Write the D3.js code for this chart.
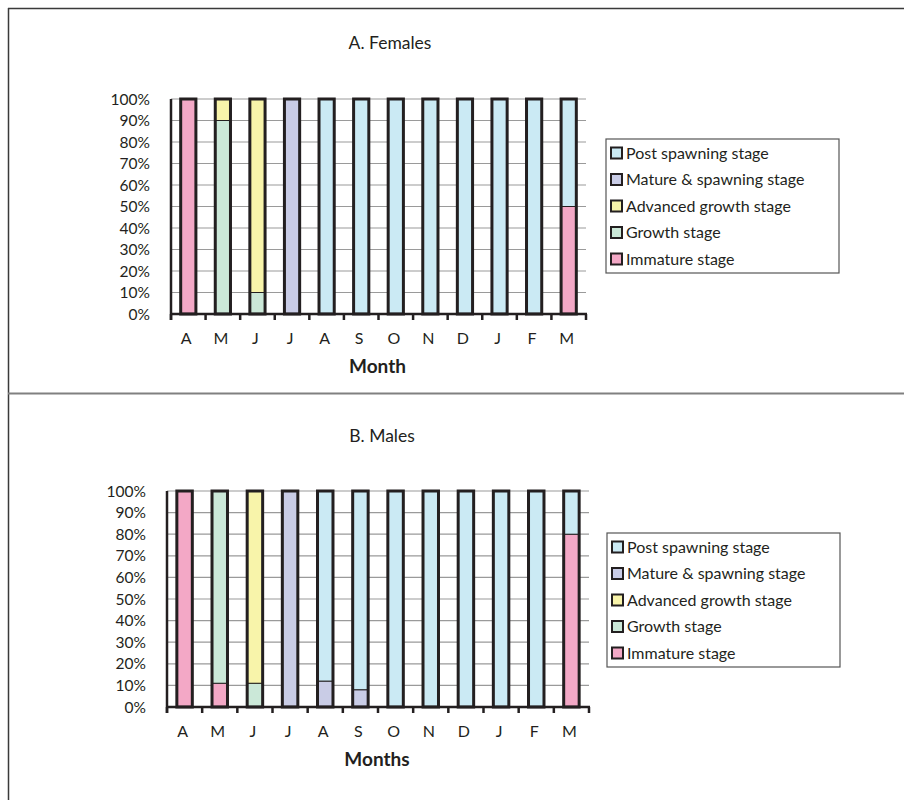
<!DOCTYPE html>
<html><head><meta charset="utf-8">
<script src="https://cdn.jsdelivr.net/npm/d3@7"></script>
<style>
body{margin:0;background:#fff;}
text{font-family:Lato,"Open Sans",sans-serif;fill:#231f20;}
</style></head>
<body>
<svg id="c" width="904" height="800"></svg>
<script>
const months = ["A","M","J","J","A","S","O","N","D","J","F","M"];
const stages = ["Immature stage","Growth stage","Advanced growth stage","Mature & spawning stage","Post spawning stage"];
const stageColors = ["#f3a8c6","#cbe8d8","#f8f4aa","#c9cce6","#cbeaf4"];
const yTicks = [0,10,20,30,40,50,60,70,80,90,100];

// Females (%)
const femImmature = [100,0,0,0,0,0,0,0,0,0,0,50];
const femGrowth   = [0,90,10,0,0,0,0,0,0,0,0,0];
const femAdvanced = [0,10,90,0,0,0,0,0,0,0,0,0];
const femMature   = [0,0,0,100,0,0,0,0,0,0,0,0];
const femPost     = [0,0,0,0,100,100,100,100,100,100,100,50];

// Males (%)
const malImmature = [100,11,0,0,0,0,0,0,0,0,0,80];
const malGrowth   = [0,89,11,0,0,0,0,0,0,0,0,0];
const malAdvanced = [0,0,89,0,0,0,0,0,0,0,0,0];
const malMature   = [0,0,0,100,12,8,0,0,0,0,0,0];
const malPost     = [0,0,0,0,88,92,100,100,100,100,100,20];

const svg = d3.select("#c");

// frame
svg.append("line").attr("x1",8).attr("x2",904).attr("y1",8.5).attr("y2",8.5).attr("stroke","#3a3a3a").attr("stroke-width",1.5);
svg.append("line").attr("x1",8.5).attr("x2",8.5).attr("y1",8).attr("y2",800).attr("stroke","#3a3a3a").attr("stroke-width",1.5);
svg.append("line").attr("x1",8).attr("x2",904).attr("y1",393.5).attr("y2",393.5).attr("stroke","#808080").attr("stroke-width",2);

function panel(cfg){
  const series = [cfg.imm, cfg.gro, cfg.adv, cfg.mat, cfg.post];
  const rows = months.map((m,i)=>{ const r={idx:i}; stages.forEach((s,k)=>r[s]=series[k][i]); return r; });
  const stack = d3.stack().keys(stages)(rows);
  const x = d3.scaleBand().domain(d3.range(months.length)).range([cfg.left,cfg.right]).paddingInner(0).paddingOuter(0);
  const y = d3.scaleLinear().domain([0,100]).range([cfg.bottom,cfg.top]);
  const g = svg.append("g");
  // gridlines
  g.selectAll(".grid").data(yTicks).join("line")
    .attr("x1",cfg.left).attr("x2",cfg.right)
    .attr("y1",d=>y(d)).attr("y2",d=>y(d))
    .attr("stroke","#9a9a9a").attr("stroke-width",1.2);
  // y labels
  g.selectAll(".yl").data(yTicks).join("text")
    .attr("x",cfg.left-21).attr("y",d=>y(d)+5.5)
    .attr("text-anchor","end").attr("font-size",15.5).text(d=>d+"%");
  const bw = x.bandwidth()*0.44;
  const off = (x.bandwidth()-bw)/2;
  // segments
  stack.forEach((layer,k)=>{
    g.selectAll(null).data(layer.filter(d=>d[1]-d[0]>0)).join("rect")
      .attr("x",d=>x(d.data.idx)+off).attr("width",bw)
      .attr("y",d=>y(d[1])).attr("height",d=>y(d[0])-y(d[1]))
      .attr("fill",stageColors[k]).attr("stroke","#231f20").attr("stroke-width",1);
  });
  // outer bar outline
  g.selectAll(null).data(rows).join("rect")
    .attr("x",d=>x(d.idx)+off).attr("width",bw)
    .attr("y",d=>y(d3.sum(stages,s=>d[s]))).attr("height",d=>y(0)-y(d3.sum(stages,s=>d[s])))
    .attr("fill","none").attr("stroke","#231f20").attr("stroke-width",3);
  // axes
  g.append("line").attr("x1",cfg.left).attr("x2",cfg.left).attr("y1",cfg.top).attr("y2",cfg.bottom+6).attr("stroke","#231f20").attr("stroke-width",2.5);
  g.append("line").attr("x1",cfg.left).attr("x2",cfg.right+1).attr("y1",cfg.bottom).attr("y2",cfg.bottom).attr("stroke","#231f20").attr("stroke-width",2.5);
  const bounds = d3.range(months.length+1).map(i=> i<months.length ? x(i) : cfg.right);
  g.selectAll(".xt").data(bounds).join("line")
    .attr("x1",d=>d).attr("x2",d=>d).attr("y1",cfg.bottom).attr("y2",cfg.bottom+6)
    .attr("stroke","#231f20").attr("stroke-width",2.5);
  g.selectAll(".xl").data(months.map((m,i)=>({m,i}))).join("text")
    .attr("x",d=>x(d.i)+x.bandwidth()/2-2).attr("y",cfg.bottom+30)
    .attr("text-anchor","middle").attr("font-size",16).text(d=>d.m);
  g.append("text").attr("x",(cfg.left+cfg.right)/2-1).attr("y",cfg.bottom+59)
    .attr("text-anchor","middle").attr("font-size",19).attr("font-weight","bold").text(cfg.xTitle);
  g.append("text").attr("x",cfg.titleX).attr("y",cfg.titleY)
    .attr("text-anchor","middle").attr("font-size",17.5).text(cfg.title);
  // legend
  const lg = g.append("g");
  lg.append("rect").attr("x",cfg.legX).attr("y",cfg.legY).attr("width",233).attr("height",134)
    .attr("fill","#fff").attr("stroke","#555").attr("stroke-width",1.2);
  const order = stages.slice().reverse();
  const cols = stageColors.slice().reverse();
  order.forEach((s,i)=>{
    const yy = cfg.legY+14+i*26.5;
    lg.append("rect").attr("x",cfg.legX+5).attr("y",yy-5.5).attr("width",11).attr("height",11)
      .attr("fill",cols[i]).attr("stroke","#231f20").attr("stroke-width",2);
    lg.append("text").attr("x",cfg.legX+20).attr("y",yy+5.5).attr("font-size",16).text(s);
  });
}

panel({imm:femImmature,gro:femGrowth,adv:femAdvanced,mat:femMature,post:femPost,
  left:171,right:586,top:99,bottom:314,title:"A. Females",titleX:390,titleY:49,xTitle:"Month",legX:606,legY:139});
panel({imm:malImmature,gro:malGrowth,adv:malAdvanced,mat:malMature,post:malPost,
  left:167,right:589,top:491,bottom:707,title:"B. Males",titleX:382,titleY:442,xTitle:"Months",legX:607,legY:533});
</script>
</body></html>
